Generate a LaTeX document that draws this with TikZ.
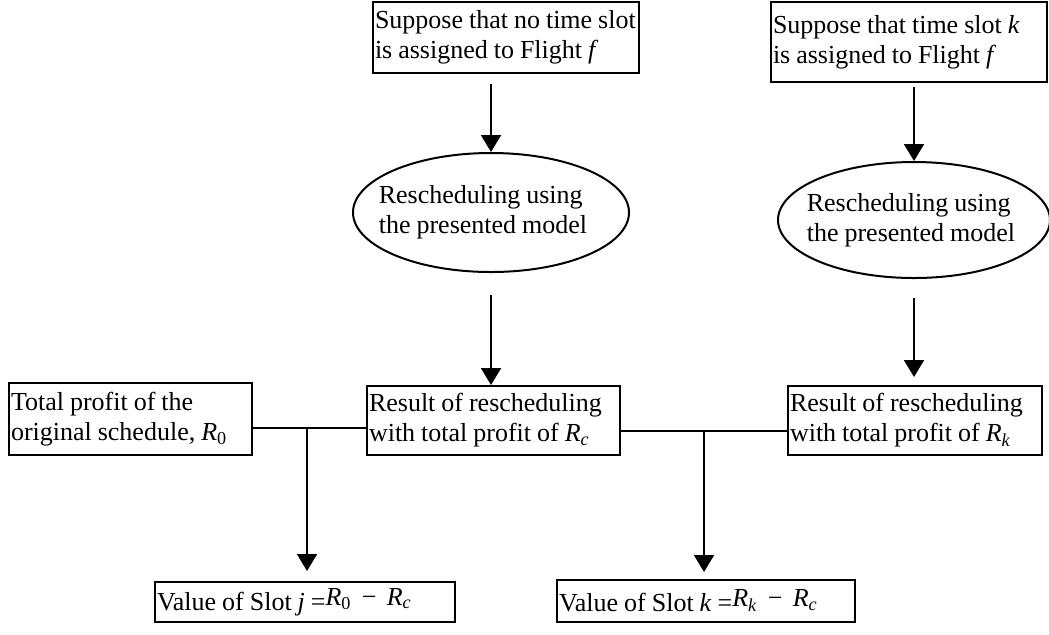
\documentclass[tikz,border=0pt]{standalone}
\usepackage{fontspec}
\setmainfont{Liberation Serif}
\usetikzlibrary{shapes.geometric,arrows.meta}
\newcommand{\Rsub}[1]{\textit{R}\textsubscript{#1}}
\newcommand{\boxfont}{\fontsize{13}{15}\selectfont\spaceskip=0.23em plus 0.05em\relax}
\begin{document}
\begin{tikzpicture}[x=0.5pt, y=-0.5pt,
		box/.style={draw, line width=1pt, align=flush left, inner xsep=1pt, inner ysep=0pt, font=\boxfont},
		oval/.style={draw, ellipse, line width=1pt, align=left, inner xsep=-10pt, inner ysep=0pt, font=\boxfont},
		arr/.style={line width=1pt, -{Triangle[width=10pt, length=8.5pt]}}]
		\path[use as bounding box, fill=white] (0,0) rectangle (1049,634);
		
		\node[box, text width=131pt, minimum height=35.5pt] (noslot) at (506,37.5) {\mbox{Suppose that no time slot}\\\mbox{is assigned to Flight \textit{f}}};
		\node[box, text width=136pt, minimum height=40pt] (slotk) at (909,42) {\mbox{Suppose that time slot \textit{k}}\\\mbox{is assigned to Flight \textit{f}}};
		\node[oval, minimum width=138pt, minimum height=59.5pt] (model0) at (491,212.5) {Rescheduling using\\the presented model\hspace*{8pt}};
		\node[oval, minimum width=136pt, minimum height=58pt] (modelk) at (914,220) {Rescheduling using\\the presented model\hspace*{3pt}};
		\node[box, text width=119.5pt, minimum height=36pt] (total) at (130.5,419) {\mbox{Total profit of the}\\\mbox{original schedule, \Rsub{0}}};
		\node[box, text width=124.5pt, minimum height=34.5pt] (resc) at (493.5,420.5) {\mbox{Result of rescheduling}\\\mbox{with total profit of \Rsub{\textit{c}}}};
		\node[box, text width=125pt, minimum height=34.5pt] (resk) at (915,420.5) {\mbox{Result of rescheduling}\\\mbox{with total profit of \Rsub{\textit{k}}}};
		\node[box, text width=148pt, minimum height=20pt] (valj) at (305,602) {\mbox{Value of Slot \textit{j} =\raisebox{2.5pt}{\Rsub{0} \,−\, \Rsub{\textit{c}}}}};
		\node[box, text width=147pt, minimum height=21pt] (valk) at (706,601) {\mbox{Value of Slot \textit{k} =\raisebox{2.5pt}{\Rsub{\textit{k}} \,−\, \Rsub{\textit{c}}}}};
		\coordinate (join0) at (307,428);
		\coordinate (joink) at (704,431);
		
		\draw[arr, shorten <=5pt] (model0.north |- noslot.south) -- (model0.north);
		\draw[arr, shorten <=2pt] (modelk.north |- slotk.south) -- (modelk.north);
		\draw[arr, shorten <=11pt] (model0.south) -- (model0.south |- resc.north);
		\draw[arr, shorten <=9.5pt, shorten >=4pt] (modelk.south) -- (modelk.south |- resk.north);
		\draw[line width=1pt] (total.east |- join0) -- (resc.west |- join0);
		\draw[arr, shorten >=5pt] (join0) -- (join0 |- valj.north);
		\draw[line width=1pt] (resc.east |- joink) -- (resk.west |- joink);
		\draw[arr, shorten >=3.5pt] (joink) -- (joink |- valk.north);
	\end{tikzpicture}
\end{document}
